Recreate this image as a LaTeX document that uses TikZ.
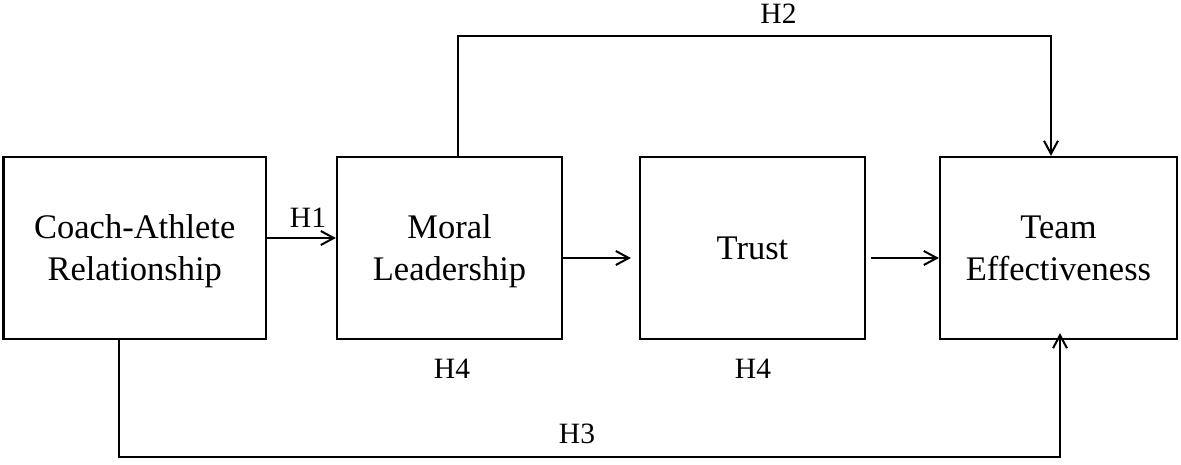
\documentclass[tikz,border=0pt]{standalone}
\usepackage{fontspec}
\setmainfont{Liberation Serif}
\usetikzlibrary{arrows.meta}
\begin{document}
\begin{tikzpicture}[x=1pt,y=-1pt,
  box/.style={draw, line width=2.2pt, inner sep=0pt, align=center,
    font=\fontsize{34.5}{42}\selectfont},
  hlab/.style={inner sep=0pt, anchor=base, font=\fontsize{29.5}{34}\selectfont},
  arr/.style={line width=2pt, -{Straight Barb[length=13pt,width=14pt,line width=2pt]}},
  conn/.style={line width=2pt}]
\useasboundingbox (0,0) rectangle (1181,464);
\node[box, minimum width=262.5pt, minimum height=182pt] (a) at (134.75,248) {Coach-Athlete\\\smash{Relationship}};
\node[box, minimum width=225pt, minimum height=182pt] (b) at (449.5,248) {Moral\\\smash{Leadership}};
\node[box, minimum width=225pt, minimum height=182pt] (c) at (752.5,248) {Trust};
\node[box, minimum width=237pt, minimum height=182pt] (d) at (1058.5,248) {Team\\\smash{Effectiveness}};
% straight arrows
\draw[arr] ([yshift=10pt]a.east) -- ([yshift=10pt]b.west);
\draw[arr, shorten >=8pt] ([yshift=-10pt]b.east) -- ([yshift=-10pt]c.west);
\draw[arr, shorten <=5pt] ([yshift=-10pt]c.east) -- ([yshift=-10pt]d.west);
% H2 path
\coordinate (h2s) at ([xshift=8.5pt]b.north);
\coordinate (h2e) at ([xshift=-7.5pt]d.north);
\draw[arr] (h2s) -- ++(0,-120.3) -| (h2e);
% H3 path
\coordinate (h3s) at ([xshift=-15.75pt]a.south);
\coordinate (h3e) at ([xshift=1.5pt]d.south);
\draw[arr, shorten >=-7pt] (h3s) -- ++(0,117) -| (h3e);
% labels
\node[hlab] (l1) at (308,227) {H1};
\node[hlab] (l2) at (778.5,23) {H2};
\node[hlab] (l3) at (577,443) {H3};
\node[hlab] (l4a) at (452,378) {H4};
\node[hlab] (l4b) at (753,378) {H4};
\end{tikzpicture}
\end{document}
